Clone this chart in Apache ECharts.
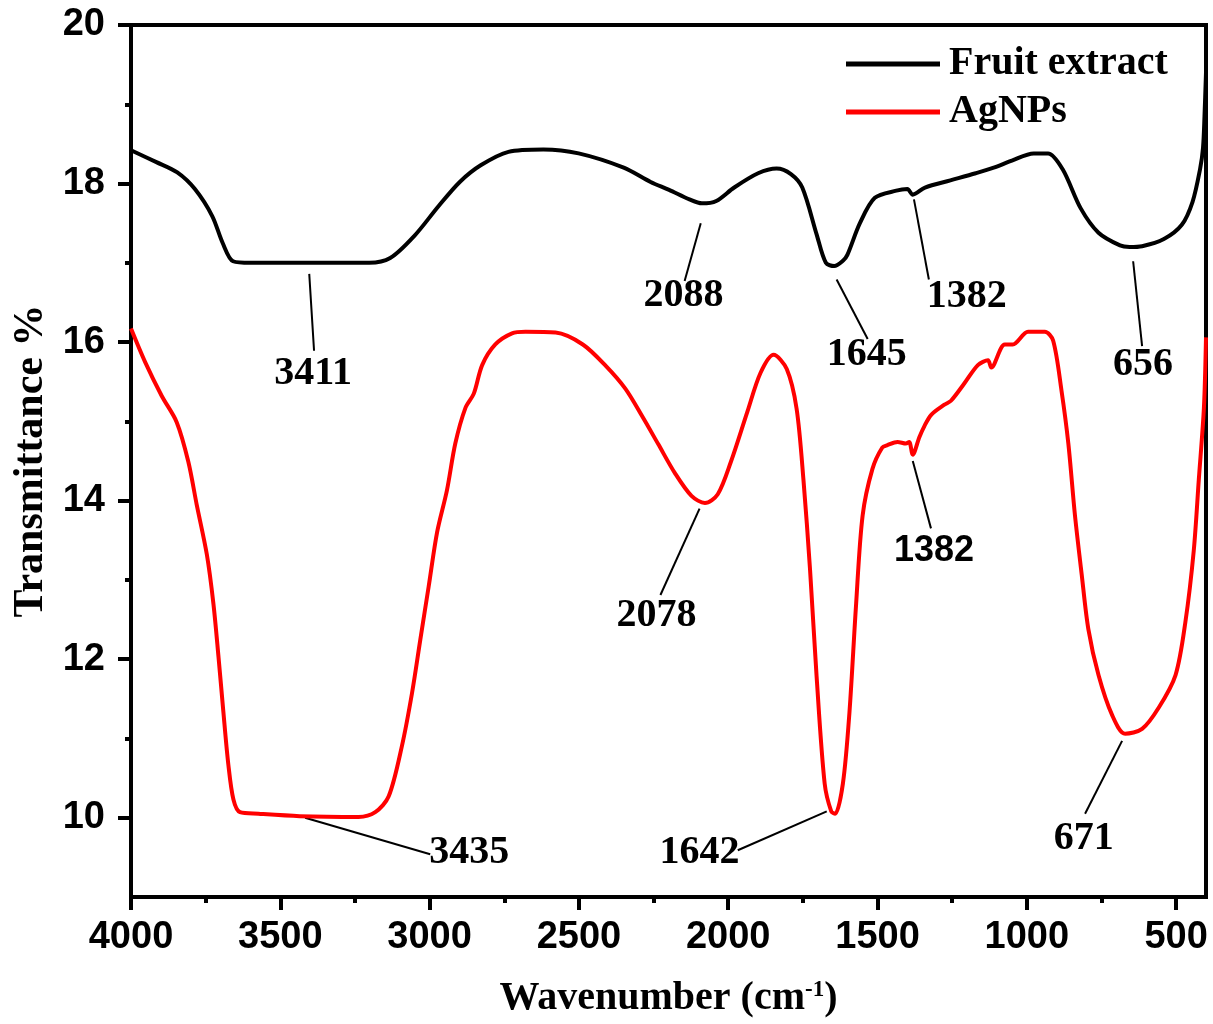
<!DOCTYPE html>
<html>
<head>
<meta charset="utf-8">
<script src="https://cdn.jsdelivr.net/npm/echarts@6/dist/echarts.min.js"></script>
<style>
  html, body { margin: 0; padding: 0; background: #fff; }
  #chart { width: 1213px; height: 1024px; }
</style>
</head>
<body>
<div id="chart"></div>
<script>
// FTIR spectra (wavenumber cm-1, transmittance %)
const fruitWave = [4000, 3915, 3845, 3786, 3728, 3693, 3658, 3600, 3400, 3202, 3132, 3051, 2969, 2899, 2829,
    2736, 2619, 2501, 2350, 2260, 2198, 2130, 2088, 2040, 1980, 1900, 1838, 1790, 1752, 1704, 1673, 1645,
    1615, 1601, 1559, 1509, 1437, 1400, 1382, 1341, 1256, 1171, 1111, 1050, 977, 929, 880, 820, 760, 688,
    656, 614, 541, 481, 445, 420, 410, 405, 400];
const fruitT = [18.42, 18.27, 18.14, 17.93, 17.59, 17.25, 17.02, 17.0, 17.0, 17.0, 17.06, 17.34, 17.72, 18.02, 18.23,
    18.4, 18.43, 18.38, 18.2, 18.02, 17.92, 17.8, 17.75, 17.78, 17.95, 18.13, 18.19, 18.12, 17.95, 17.36, 17.0, 16.96,
    17.03, 17.1, 17.5, 17.82, 17.91, 17.93, 17.86, 17.95, 18.04, 18.13, 18.2, 18.29, 18.38, 18.38, 18.18, 17.69, 17.38, 17.22,
    17.2, 17.21, 17.3, 17.48, 17.77, 18.18, 18.45, 18.85, 19.4];

const agWave = [4000, 3953, 3897, 3847, 3808, 3780, 3746, 3724, 3707, 3691, 3674, 3657, 3635, 3573, 3435, 3238,
    3182, 3137, 3093, 3059, 3031, 3003, 2975, 2942, 2914, 2880, 2852, 2824, 2780, 2724, 2679, 2578, 2487,
    2410, 2344, 2289, 2234, 2179, 2123, 2078, 2035, 1991, 1936, 1892, 1848, 1804, 1771, 1748, 1726, 1704,
    1677, 1655, 1642, 1616, 1594, 1572, 1550, 1517, 1484, 1467, 1433, 1405, 1394, 1382, 1360, 1343, 1321,
    1276, 1254, 1209, 1164, 1130, 1119, 1074, 1047, 996, 940, 912, 884, 861, 839, 816, 794, 760, 715, 671,
    614, 558, 502, 469, 441, 424, 407, 400];
const agT = [16.17, 15.75, 15.32, 14.99, 14.49, 13.95, 13.32, 12.7, 12.03, 11.35, 10.67, 10.23, 10.07, 10.05, 10.02, 10.01,
    10.07, 10.27, 10.9, 11.57, 12.25, 12.92, 13.6, 14.13, 14.72, 15.17, 15.35, 15.71, 15.97, 16.11, 16.13, 16.12, 15.97,
    15.7, 15.41, 15.07, 14.71, 14.35, 14.06, 13.97, 14.08, 14.49, 15.12, 15.61, 15.84, 15.66, 15.16, 14.26, 13.13, 11.78,
    10.43, 10.08, 10.05, 10.43, 11.33, 12.68, 13.81, 14.4, 14.67, 14.7, 14.74, 14.72, 14.74, 14.58, 14.8, 14.94, 15.08,
    15.21, 15.26, 15.48, 15.71, 15.77, 15.68, 15.97, 15.97, 16.13, 16.13, 16.02, 15.39, 14.72, 13.82, 13.06, 12.38, 11.8, 11.3, 11.06,
    11.12, 11.39, 11.8, 12.47, 13.37, 14.27, 15.17, 16.06];

// peak notes: text, leader start, leader end, text centre (data coords)
const fruitNotes = [
    ["3411", [3403, 16.86], [3387, 15.89], [3390, 15.6]],
    ["2088", [2092, 17.5], [2146, 16.77], [2150, 16.58]],
    ["1645", [1637, 16.79], [1533, 16.04], [1536, 15.84]],
    ["1382", [1378, 17.8], [1328, 16.79], [1201, 16.57]],
    ["656", [644, 17.02], [614, 15.95], [611, 15.72]],
];
const agNotes = [
    ["3435", [3417, 10.0], [2998, 9.54], [2867, 9.56]],
    ["2078", [2096, 13.9], [2227, 12.81], [2240, 12.55]],
    ["1642", [1670, 10.08], [1968, 9.59], [2096, 9.56]],
    ["1382", [1382, 14.5], [1321, 13.65], [1311, 13.37]],
    ["671", [681, 10.97], [805, 10.05], [809, 9.74]],
];

const xTicks = [500, 1000, 1500, 2000, 2500, 3000, 3500, 4000];
const xMinor = [750, 1250, 1750, 2250, 2750, 3250, 3750];
const yTicks = [10, 12, 14, 16, 18, 20];
const yMinor = [11, 13, 15, 17, 19];

const serif = "'Liberation Serif', 'Times New Roman', serif";
const sans = "'Liberation Sans', Arial, sans-serif";

const chart = echarts.init(document.getElementById("chart"));

const zip = (a, b) => a.map((v, i) => [v, b[i]]);
const allNotes = fruitNotes.map(n => [n, false]).concat(agNotes.map((n, i) => [n, i === 3]));

const xBase = { type: "value", min: 400, max: 4000, inverse: true, splitLine: { show: false } };
const yBase = { type: "value", min: 9, max: 20, splitLine: { show: false } };

chart.setOption({
    animation: false,
    backgroundColor: "#fff",
    grid: { left: 131, right: 7, top: 25, bottom: 126, show: true, borderColor: "#000", borderWidth: 4 },
    legend: {
        orient: "vertical",
        left: 841,
        top: 39,
        itemGap: 8,
        itemWidth: 94,
        itemHeight: 5,
        icon: "rect",
        data: ["Fruit extract", "AgNPs"],
        textStyle: { fontFamily: serif, fontWeight: "bold", fontSize: 40, color: "#000", padding: [0, 0, 0, 4] },
    },
    xAxis: [
        Object.assign({}, xBase, {
            name: "{a|Wavenumber (cm}{s|-1}{a|)}",
            nameLocation: "middle",
            nameGap: 82,
            nameTextStyle: {
                rich: {
                    a: { fontFamily: serif, fontWeight: "bold", fontSize: 40, color: "#000" },
                    s: { fontFamily: serif, fontWeight: "bold", fontSize: 23, color: "#000", verticalAlign: "top" },
                },
            },
            axisLine: { lineStyle: { color: "#000", width: 4 } },
            axisTick: { customValues: xTicks, length: 13, lineStyle: { color: "#000", width: 4 } },
            axisLabel: {
                customValues: xTicks, margin: 22, formatter: v => String(v),
                fontFamily: sans, fontWeight: "bold", fontSize: 38, color: "#000",
            },
        }),
        Object.assign({}, xBase, {
            position: "bottom",
            offset: 0,
            axisLine: { show: false },
            axisLabel: { show: false },
            axisTick: { customValues: xMinor, length: 6, lineStyle: { color: "#000", width: 4 } },
        }),
    ],
    yAxis: [
        Object.assign({}, yBase, {
            name: "Transmittance %",
            nameLocation: "middle",
            nameGap: 78,
            nameTextStyle: { fontFamily: serif, fontWeight: "bold", fontSize: 42, color: "#000" },
            axisLine: { lineStyle: { color: "#000", width: 4 } },
            axisTick: { customValues: yTicks, length: 13, lineStyle: { color: "#000", width: 4 } },
            axisLabel: {
                customValues: yTicks, margin: 26, formatter: v => String(v),
                fontFamily: sans, fontWeight: "bold", fontSize: 38, color: "#000",
            },
        }),
        Object.assign({}, yBase, {
            position: "left",
            offset: 0,
            axisLine: { show: false },
            axisLabel: { show: false },
            axisTick: { customValues: yMinor, length: 6, lineStyle: { color: "#000", width: 4 } },
        }),
    ],
    series: [
        {
            name: "Fruit extract",
            type: "line",
            data: zip(fruitWave, fruitT),
            showSymbol: false,
            smooth: 0.3,
            lineStyle: { color: "#000", width: 4 },
            itemStyle: { color: "#000" },
        },
        {
            name: "AgNPs",
            type: "line",
            data: zip(agWave, agT),
            showSymbol: false,
            smooth: 0.3,
            lineStyle: { color: "#ff0000", width: 4 },
            itemStyle: { color: "#ff0000" },
        },
        {
            name: "leaders",
            type: "lines",
            coordinateSystem: "cartesian2d",
            silent: true,
            lineStyle: { color: "#000", width: 2, opacity: 1 },
            data: allNotes.map(([n]) => ({ coords: [n[1], n[2]] })),
        },
        {
            name: "notes",
            type: "scatter",
            symbolSize: 0,
            silent: true,
            itemStyle: { opacity: 1, color: "#000" },
            data: allNotes.map(([n, isSans]) => ({
                value: n[3],
                label: {
                    show: true,
                    position: "inside",
                    formatter: n[0],
                    fontFamily: isSans ? sans : serif,
                    fontWeight: "bold",
                    fontSize: isSans ? 36 : 40,
                    color: "#000",
                    opacity: 1,
                    textBorderWidth: 0,
                },
            })),
        },
    ],
});
</script>
</body>
</html>
